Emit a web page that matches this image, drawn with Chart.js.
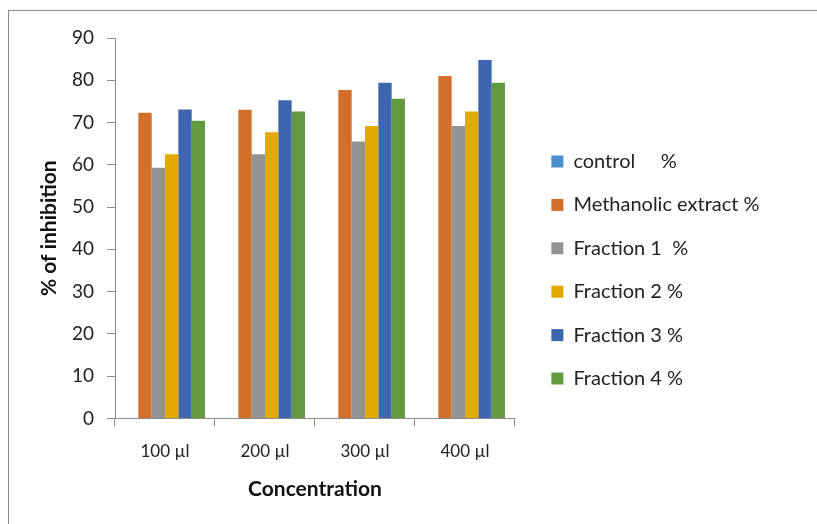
<!DOCTYPE html>
<html>
<head>
<meta charset="utf-8">
<script src="https://cdn.jsdelivr.net/npm/chart.js@4"></script>
<style>
  html, body { margin: 0; padding: 0; background: #fff; }
  #wrap { position: relative; width: 817px; height: 524px; overflow: hidden; }
  #frame { position: absolute; left: 8px; top: 10px; width: 820px; height: 530px;
           border-top: 1px solid #8a8a8a; border-left: 1px solid #8a8a8a; }
  canvas { position: absolute; left: 0; top: 0; }
</style>
</head>
<body>
<div id="wrap">
  <div id="frame"></div>
  <canvas id="c" width="817" height="524"></canvas>
</div>
<script>
// Concentrations tested
const categories = ['100 µl', '200 µl', '300 µl', '400 µl'];

// % of inhibition per sample
const control     = [0, 0, 0, 0];
const methanolic  = [72.3, 73.0, 77.7, 81.0];
const fraction1   = [59.3, 62.5, 65.5, 69.2];
const fraction2   = [62.5, 67.7, 69.2, 72.6];
const fraction3   = [73.1, 75.3, 79.4, 84.8];
const fraction4   = [70.4, 72.6, 75.6, 79.4];

const seriesNames = ['control     %', 'Methanolic extract %', 'Fraction 1  %', 'Fraction 2 %', 'Fraction 3 %', 'Fraction 4 %'];
const seriesValues = [control, methanolic, fraction1, fraction2, fraction3, fraction4];
const seriesColors = ['#4E8FCB', '#D46F2B', '#949494', '#E2A900', '#3D66AE', '#629A3F'];

const FONT = 'Lato, "Liberation Sans", sans-serif';

// Give the legend the full strip right of the plot, with a small gap
const legendPlacement = {
  id: 'legendPlacement',
  afterLayout(chart) {
    const lg = chart.legend;
    if (!lg) return;
    lg.left = chart.chartArea.right + 13;
    lg.right = chart.width;
    lg.width = lg.right - lg.left;
  }
};

new Chart(document.getElementById('c'), {
  type: 'bar',
  data: {
    labels: categories,
    datasets: seriesNames.map((name, i) => ({
      label: name,
      data: seriesValues[i],
      backgroundColor: seriesColors[i],
      borderWidth: 0,
      categoryPercentage: 0.8,
      barPercentage: 1.0
    }))
  },
  options: {
    responsive: false,
    animation: false,
    layout: { padding: { left: 37, right: 142.7, top: 38, bottom: 22 } },
    plugins: {
      tooltip: { enabled: false },
      legend: {
        position: 'right',
        align: 'center',
        labels: {
          boxWidth: 12,
          boxHeight: 12,
          padding: 23.4,
          color: '#222',
          font: { family: FONT, size: 20 }
        }
      }
    },
    scales: {
      x: {
        grid: { display: true, drawOnChartArea: false, offset: true, tickLength: 8, color: '#8c8c8c' },
        border: { color: '#8c8c8c' },
        ticks: { color: '#222', padding: 15, font: { family: FONT, size: 17 } },
        title: { display: true, text: 'Concentration', color: '#111',
                 font: { family: FONT, size: 21, weight: 'bold' }, padding: { top: 0, bottom: 0 } }
      },
      y: {
        min: 0, max: 90,
        afterFit(scale) { scale.width = 78; },
        grid: { display: true, drawOnChartArea: false, tickLength: 8, color: '#8c8c8c' },
        border: { color: '#8c8c8c' },
        ticks: { stepSize: 10, color: '#222', padding: 13, font: { family: FONT, size: 19 } },
        title: { display: true, text: '% of inhibition', color: '#111',
                 font: { family: FONT, size: 21, weight: 'bold' }, padding: { top: 0, bottom: 9 } }
      }
    }
  },
  plugins: [legendPlacement]
});
</script>
</body>
</html>
